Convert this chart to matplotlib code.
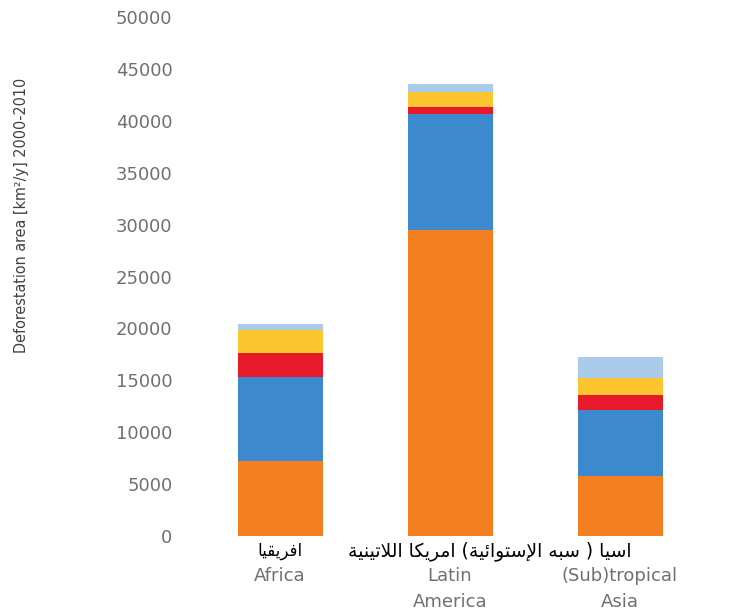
import numpy as np
import matplotlib
matplotlib.use('Agg')
import matplotlib.pyplot as plt

regions = ['Africa', 'Latin\nAmerica', '(Sub)tropical\nAsia']
orange_part = [7200, 29500, 5800]
blue_part = [8100, 11200, 6300]
red_part = [2300, 600, 1450]
yellow_part = [2200, 1450, 1650]
light_part = [600, 770, 2000]
colors = ['#F47F20', '#3C8ACD', '#E8192A', '#FDC52F', '#AACBEA']
yticks = [0, 5000, 10000, 15000, 20000, 25000, 30000, 35000, 40000, 45000, 50000]
ar_africa = 'افريقيا'
ar_rest = 'اسيا ( سبه الإستوائية) امريكا اللاتينية'

# presentation forms: isolated code, number of forms
forms = {
    'ء': (0xFE80, 1), 'آ': (0xFE81, 2), 'أ': (0xFE83, 2), 'ؤ': (0xFE85, 2),
    'إ': (0xFE87, 2), 'ئ': (0xFE89, 4), 'ا': (0xFE8D, 2), 'ب': (0xFE8F, 4),
    'ة': (0xFE93, 2), 'ت': (0xFE95, 4), 'ث': (0xFE99, 4), 'ج': (0xFE9D, 4),
    'ح': (0xFEA1, 4), 'خ': (0xFEA5, 4), 'د': (0xFEA9, 2), 'ذ': (0xFEAB, 2),
    'ر': (0xFEAD, 2), 'ز': (0xFEAF, 2), 'س': (0xFEB1, 4), 'ش': (0xFEB5, 4),
    'ص': (0xFEB9, 4), 'ض': (0xFEBD, 4), 'ط': (0xFEC1, 4), 'ظ': (0xFEC5, 4),
    'ع': (0xFEC9, 4), 'غ': (0xFECD, 4), 'ف': (0xFED1, 4), 'ق': (0xFED5, 4),
    'ك': (0xFED9, 4), 'ل': (0xFEDD, 4), 'م': (0xFEE1, 4), 'ن': (0xFEE5, 4),
    'ه': (0xFEE9, 4), 'و': (0xFEED, 2), 'ى': (0xFEEF, 2), 'ي': (0xFEF1, 4),
}
lam_alef = {'آ': 0xFEF5, 'أ': 0xFEF7, 'إ': 0xFEF9, 'ا': 0xFEFB}


def shape(s):
    tokens = []
    i = 0
    while i < len(s):
        c = s[i]
        if c == 'ل' and i + 1 < len(s) and s[i + 1] in lam_alef:
            tokens.append((lam_alef[s[i + 1]], 2))
            i += 2
            continue
        tokens.append(forms.get(c, c))
        i += 1
    out = []
    for k, t in enumerate(tokens):
        if isinstance(t, str):
            out.append(t)
            continue
        code, n = t
        prev = k > 0 and not isinstance(tokens[k - 1], str) and tokens[k - 1][1] == 4
        nxt = n == 4 and k + 1 < len(tokens) and not isinstance(tokens[k + 1], str) and tokens[k + 1][1] > 1
        if n == 1:
            out.append(chr(code))
        elif n == 2:
            out.append(chr(code + (1 if prev else 0)))
        else:
            out.append(chr(code + [[0, 2], [1, 3]][prev][nxt]))
    vis = ''.join(out)[::-1]
    return vis.translate(str.maketrans('()', ')('))


fig = plt.figure(figsize=(7.49, 6.16), dpi=100)
ax = fig.add_axes([185 / 749, 80 / 616, 535 / 749, 519 / 616])

x = np.arange(len(regions))
bottom = np.zeros(len(regions))
for part, col in zip([orange_part, blue_part, red_part, yellow_part, light_part], colors):
    ax.bar(x, part, width=0.5, bottom=bottom, color=col, edgecolor='none')
    bottom += np.array(part)

ax.set_xlim(-0.559, 2.588)
ax.set_ylim(0, 50000)
ax.set_yticks(yticks)
ax.set_yticklabels([str(v) for v in yticks], fontsize=13, color='#707070')
ax.set_xticks(x)
ax.set_xticklabels(regions, fontsize=13, color='#707070', linespacing=1.6)
ax.tick_params(axis='y', length=0, pad=9)
ax.tick_params(axis='x', length=0, pad=22)
for s in ax.spines.values():
    s.set_visible(False)

fig.text(22 / 749, 1 - 215 / 616, 'Deforestation area [km²/y] 2000-2010',
         rotation=90, ha='center', va='center', fontsize=11.5, color='#404040',
         family=['Liberation Sans Narrow', 'DejaVu Sans'], fontstretch='condensed')

tr = ax.get_xaxis_transform()
ax.text(0.135, -0.029, shape(ar_africa), transform=tr, ha='right', va='center',
        fontsize=12, color='black', family=['DejaVu Sans'])
ax.text(2.07, -0.029, shape(ar_rest), transform=tr, ha='right', va='center',
        fontsize=13.5, color='black', family=['DejaVu Sans'])

fig.savefig('out.png', dpi=100)
